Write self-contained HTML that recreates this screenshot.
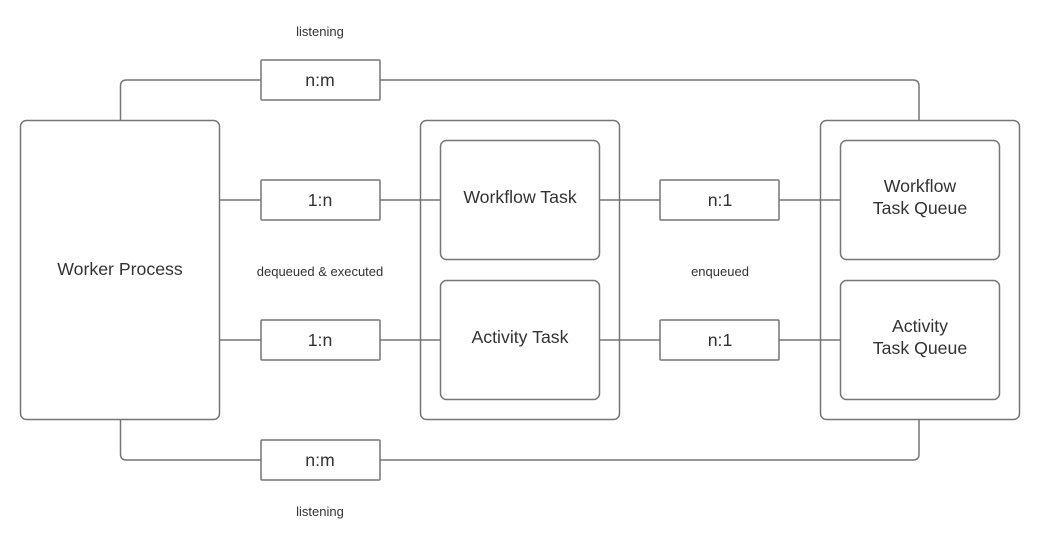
<!DOCTYPE html>
<html><head><meta charset="utf-8"><style>
html,body{margin:0;padding:0;background:#fff;width:1040px;height:541px;overflow:hidden}
text{font-family:"Liberation Sans",Arial,sans-serif;fill:#333}
</style></head><body>
<svg width="1040" height="541" viewBox="0 0 1040 541" xmlns="http://www.w3.org/2000/svg">
<g fill="none" stroke="#757575" stroke-width="1.5">
<path d="M120.5 120 V86 Q120.5 80 126.5 80 H261 M380 80 H913 Q919 80 919 86 V120"/>
<path d="M120.5 420 V454 Q120.5 460 126.5 460 H261 M380 460 H913 Q919 460 919 454 V420"/>
<rect x="20.5" y="120.5" width="199" height="299" rx="6"/>
<rect x="420.5" y="120.5" width="199" height="299" rx="6"/>
<rect x="820.5" y="120.5" width="199" height="299" rx="6"/>
<rect x="440.5" y="140.5" width="159" height="119" rx="6"/>
<rect x="440.5" y="280.5" width="159" height="119" rx="6"/>
<rect x="840.5" y="140.5" width="159" height="119" rx="6"/>
<rect x="840.5" y="280.5" width="159" height="119" rx="6"/>
<rect x="261" y="60" width="119" height="40" rx="1"/>
<rect x="261" y="440" width="119" height="40" rx="1"/>
<rect x="261" y="180" width="119" height="40" rx="1"/>
<rect x="261" y="320" width="119" height="40" rx="1"/>
<rect x="660" y="180" width="119" height="40" rx="1"/>
<rect x="660" y="320" width="119" height="40" rx="1"/>
<path d="M220 200 H261 M380 200 H440 M220 340 H261 M380 340 H440 M600 200 H660 M779 200 H840 M600 340 H660 M779 340 H840"/>
</g>
<g font-size="17.7" text-anchor="middle">
<text x="120" y="275">Worker Process</text>
<text x="520" y="203">Workflow Task</text>
<text x="520" y="343">Activity Task</text>
<text x="920" y="192">Workflow</text>
<text x="920" y="214">Task Queue</text>
<text x="920" y="332">Activity</text>
<text x="920" y="354">Task Queue</text>
<text x="320" y="86">n:m</text>
<text x="320" y="466">n:m</text>
<text x="320" y="206">1:n</text>
<text x="320" y="346">1:n</text>
<text x="720" y="206">n:1</text>
<text x="720" y="346">n:1</text>
</g>
<g font-size="13" text-anchor="middle">
<text x="320" y="36">listening</text>
<text x="320" y="516">listening</text>
<text x="320" y="276">dequeued &amp; executed</text>
<text x="720" y="276">enqueued</text>
</g>
</svg>
</body></html>
